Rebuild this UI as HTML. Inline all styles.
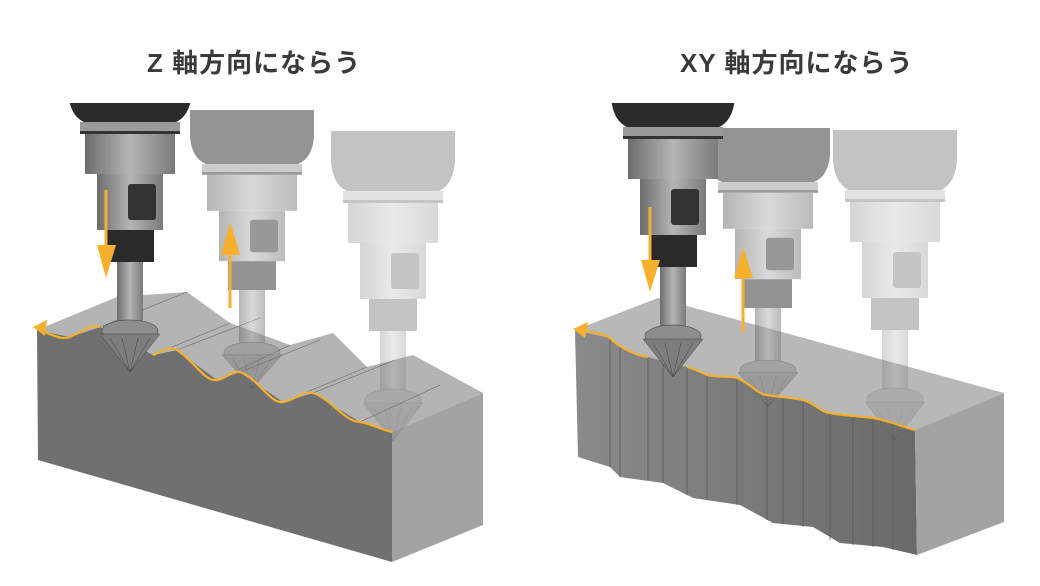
<!DOCTYPE html>
<html><head><meta charset="utf-8"><style>
html,body{margin:0;padding:0;background:#fff;width:1040px;height:586px;overflow:hidden}
.t{position:absolute;z-index:5;top:46px;font:bold 26px "Liberation Sans","Noto Sans CJK JP",sans-serif;color:#3a3a3a;letter-spacing:1px;line-height:34px}
</style></head><body>
<svg width="1040" height="586" style="position:absolute;left:0;top:0">
<defs>
<linearGradient id="bg" x1="0" x2="1"><stop offset="0" stop-color="#6d6d6d"/><stop offset=".5" stop-color="#b5b5b5"/><stop offset="1" stop-color="#7a7a7a"/></linearGradient>
<linearGradient id="ff" x1="0" x2="1"><stop offset="0" stop-color="#8a8a8a"/><stop offset="1" stop-color="#6a6a6a"/></linearGradient>
<g id="tool">
<path d="M-62,-40 H62 V-10 Q60,18 40,22 H-40 Q-60,18 -62,-10 Z" fill="#2c2c2c"/>
<rect x="-50" y="20" width="100" height="10" fill="#9a9a9a"/>
<rect x="-50" y="29" width="100" height="3" fill="#333"/>
<rect x="-45" y="32" width="90" height="40" fill="url(#bg)"/>
<rect x="-33" y="72" width="66" height="56" fill="url(#bg)"/>
<rect x="-2" y="82" width="28" height="36" rx="3" fill="#333"/>
<rect x="-24" y="128" width="48" height="32" fill="#2a2a2a"/>
<rect x="-13" y="160" width="26" height="64" fill="url(#bg)"/>
<ellipse cx="0" cy="229" rx="28" ry="11" fill="#8d8d8d" stroke="#555" stroke-width=".7"/>
<path d="M-30,232 H30 L0,270 Z" fill="#7d7d7d" stroke="#444" stroke-width=".5"/>
<path d="M-20,236 L0,270 M-8,236 L0,270 M8,236 L0,270 M20,236 L0,270" stroke="#444" stroke-width=".5"/>
</g>
</defs>

<g>
<path d="M37,330 L70,337 L100,327 L153,355 L177,350 L217,380 L240,372 L283,402 L313,393 L360,422 L392,432 L483,393 L413,355 L367,367 L333,333 L290,345 L230,323 L187,292 L117,297 Z" fill="#b4b4b4"/>
<g stroke="#666" stroke-width=".6">
<line x1="100" y1="327" x2="187" y2="292"/><line x1="153" y1="355" x2="230" y2="323"/><line x1="177" y1="350" x2="260" y2="318"/>
<line x1="217" y1="380" x2="290" y2="345"/><line x1="240" y1="372" x2="320" y2="340"/><line x1="283" y1="402" x2="367" y2="367"/>
<line x1="313" y1="393" x2="395" y2="360"/><line x1="360" y1="422" x2="440" y2="385"/></g>
<path d="M37,330 L70,337 L100,327 L153,355 L177,350 L217,380 L240,372 L283,402 L313,393 L360,422 L392,432 L392,562 L38,460 Z" fill="#707070"/>
<path d="M392,432 L483,393 L483,525 L392,562 Z" fill="#a3a3a3"/>
</g>
<g>
<path d="M575,330 L610,338 L620,347 L648,357 L687,367 L707,375 L737,378 L767,395 L803,400 L830,413 L873,418 L915,430 L1004,393 L658,298 Z" fill="#b8b8b8"/>
<path d="M575,330 L610,338 L620,347 L648,357 L687,367 L707,375 L737,378 L767,395 L803,400 L830,413 L873,418 L915,430 L917,555 L883,547 L840,543 L813,527 L773,523 L740,505 L693,498 L663,483 L620,477 L610,467 L578,457 Z" fill="url(#ff)"/>
<g stroke="#555" stroke-width=".7">
<line x1="610" y1="338" x2="610" y2="467"/><line x1="620" y1="347" x2="620" y2="477"/><line x1="648" y1="357" x2="648" y2="480"/>
<line x1="663" y1="362" x2="663" y2="483"/><line x1="687" y1="367" x2="687" y2="495"/><line x1="707" y1="375" x2="707" y2="500"/>
<line x1="737" y1="378" x2="737" y2="505"/><line x1="767" y1="395" x2="767" y2="520"/><line x1="783" y1="398" x2="783" y2="524"/>
<line x1="803" y1="400" x2="803" y2="527"/><line x1="830" y1="413" x2="830" y2="540"/><line x1="853" y1="416" x2="853" y2="545"/><line x1="873" y1="418" x2="873" y2="547"/><line x1="893" y1="423" x2="893" y2="550"/></g>
<path d="M915,430 L1004,393 L1004,522 L917,555 Z" fill="#a3a3a3"/>
</g>

<use href="#tool" transform="translate(393,171)" opacity=".28"/>
<use href="#tool" transform="translate(252,146) scale(1,.9)" opacity=".5"/>
<use href="#tool" transform="translate(130,102)"/>
<use href="#tool" transform="translate(895,170)" opacity=".28"/>
<use href="#tool" transform="translate(768,164) scale(1,.9)" opacity=".5"/>
<use href="#tool" transform="translate(673,107)"/>
<rect x="0" y="0" width="1040" height="103" fill="#fff"/>

<g fill="none" stroke="#f5b02e" stroke-width="2.2">
<path d="M42,331 C55,336 62,340 70,337 C85,330 92,324 100,327 M153,355 C165,350 170,346 177,350 C195,362 205,382 217,380 C228,378 232,370 240,372 C260,380 270,404 283,402 C295,400 303,390 313,393 C330,398 345,422 360,422 C372,424 382,430 392,432"/>
<path d="M582,330 C595,333 605,334 610,338 C615,343 618,345 625,349 C635,354 640,356 648,357 M687,367 C697,370 702,373 707,375 C720,378 728,375 737,378 C750,383 757,394 767,395 C780,397 792,398 803,400 C815,403 820,412 830,413 C845,416 860,416 873,418 C890,421 900,426 915,430"/>
</g>
<g fill="#f5b02e">
<path d="M33,327 L47,320 L45,336 Z"/>
<path d="M573,329 L588,322 L585,338 Z"/>
<rect x="104.5" y="190" width="3" height="58"/><path d="M97,245 H116 L106,278 Z"/>
<rect x="228.5" y="252" width="3" height="56"/><path d="M221,255 H240 L230,222 Z"/>
<rect x="648.5" y="207" width="3" height="56"/><path d="M641,260 H660 L650,292 Z"/>
<rect x="741.5" y="275" width="3" height="57"/><path d="M734,278 H753 L743,247 Z"/>
</g>
</svg>
<div class="t" style="left:147px">Z 軸方向にならう</div>
<div class="t" style="left:680px">XY 軸方向にならう</div>
</body></html>
